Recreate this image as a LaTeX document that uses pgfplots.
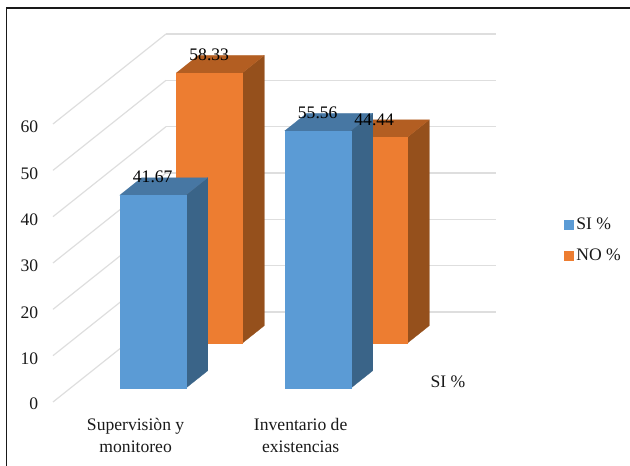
\documentclass[border=0pt]{standalone}
\usepackage{fontspec}
\setmainfont{Liberation Serif}
\usepackage{pgfplots}
\pgfplotsset{compat=1.18}

\definecolor{siFront}{HTML}{5B9BD5}
\definecolor{siSide}{HTML}{3A6488}
\definecolor{siTop}{HTML}{4777A3}
\definecolor{noFront}{HTML}{ED7D31}
\definecolor{noSide}{HTML}{95501C}
\definecolor{noTop}{HTML}{B35E22}
\definecolor{wallGrid}{HTML}{DEDEDE}
\definecolor{inkText}{HTML}{1A1A1A}

% One cuboid: {category}{series row}{value}{colour prefix}
\newcommand{\cuboid}[4]{%
  \pgfmathsetmacro{\xa}{#1-0.2}\pgfmathsetmacro{\xb}{#1+0.2}%
  \pgfmathsetmacro{\ya}{#2-0.195}\pgfmathsetmacro{\yb}{#2+0.195}%
  \addplot3[fill=#4Side,draw=#4Side,line width=0.1pt,mark=none,forget plot] coordinates
    {(\xb,\ya,0) (\xb,\yb,0) (\xb,\yb,#3) (\xb,\ya,#3)} --cycle;
  \addplot3[fill=#4Top,draw=#4Top,line width=0.1pt,mark=none,forget plot] coordinates
    {(\xa,\ya,#3) (\xb,\ya,#3) (\xb,\yb,#3) (\xa,\yb,#3)} --cycle;
  \addplot3[fill=#4Front,draw=#4Front,line width=0.1pt,mark=none,forget plot] coordinates
    {(\xa,\ya,0) (\xb,\ya,0) (\xb,\ya,#3) (\xa,\ya,#3)} --cycle;
}

\begin{document}
\begin{tikzpicture}
  \path[use as bounding box] (0pt,0pt) rectangle (472.5pt,349.5pt);
  % frame, open on the right and at the bottom
  \draw[line width=1.4pt,black!90] (4.9pt,0pt) -- (4.9pt,343.5pt) -- (472.5pt,343.5pt);
  \begin{axis}[
    at={(39.75pt,48pt)},
    anchor=origin,
    x={(123.75pt,0pt)},
    y={(42.375pt,33.75pt)},
    z={(0pt,3.475pt)},
    xmin=0.5,xmax=2.5,ymin=0.5,ymax=2.5,zmin=0,zmax=60,
    clip=false,
    axis line style={draw=none},
    major tick length=0pt,
    xtick={1,2},
    ytick={1},
    ztick={0,10,20,30,40,50,60},
    xticklabels={{Supervisiòn y\\monitoreo},{Inventario de\\existencias}},
    yticklabels={SI \%},
    xmajorgrids=false,ymajorgrids=false,zmajorgrids=true,
    grid style={wallGrid,line width=0.9pt},
    tick label style={font=\fontsize{13.2}{16}\selectfont,text=inkText},
    xticklabel style={align=center,xshift=7.9pt,yshift=-9pt},
    yticklabel style={xshift=15.75pt,yshift=10pt},
    zticklabel style={xshift=-7.5pt,yshift=1.2pt},
    /pgf/number format/assume math mode=true,
    legend style={draw=none,fill=none,at={(1.144,0.439)},anchor=west,
      font=\fontsize{13.2}{16}\selectfont,text=inkText,row sep=9pt},
    legend cell align=left,
    legend image code/.code={\fill[#1] (0pt,-3.4pt) rectangle (6.8pt,3.4pt);},
  ]
    % rear row first, so the front row covers it
    \cuboid{1}{2}{58.33}{no}
    \cuboid{2}{2}{44.44}{no}
    \cuboid{1}{1}{41.67}{si}
    \cuboid{2}{1}{55.56}{si}

    % value labels, held on the top front edge of each cuboid
    \addplot3[draw=none,mark=none,forget plot,point meta=z,
      nodes near coords,
      every node near coord/.append style={font=\fontsize{13.2}{16}\selectfont,text=black,
        anchor=center,yshift=13.5pt,
        /pgf/number format/.cd,fixed,fixed zerofill,precision=2,assume math mode=true}]
      coordinates {(1,0.805,41.67) (2,0.805,55.56) (1,1.805,58.33) (2,1.805,44.44)};

    \addlegendimage{siFront,fill=siFront}
    \addlegendentry{SI \%}
    \addlegendimage{noFront,fill=noFront}
    \addlegendentry{NO \%}
  \end{axis}
\end{tikzpicture}
\end{document}
